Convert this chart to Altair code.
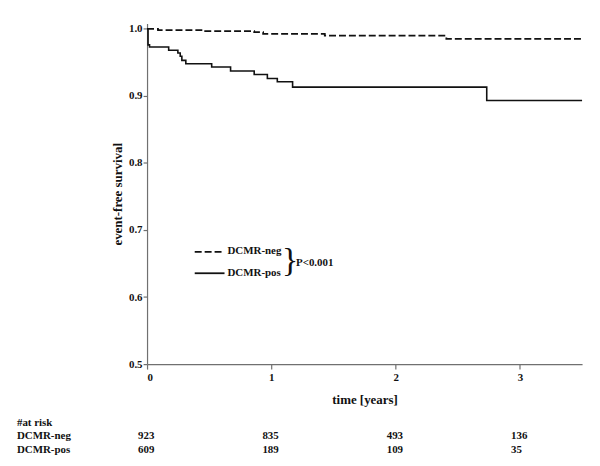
import altair as alt
import pandas as pd

# Kaplan-Meier step curves
neg_t = [0, 0.088, 0.46, 0.862, 0.934, 1.43, 2.408, 3.5]
neg_s = [1.0, 0.998, 0.9965, 0.995, 0.9926, 0.990, 0.985, 0.985]

pos_t = [0, 0.008, 0.02, 0.174, 0.248, 0.267, 0.28, 0.312, 0.52, 0.672, 0.862, 0.968, 1.048, 1.171, 2.733, 3.5]
pos_s = [1.0, 0.976, 0.973, 0.968, 0.964, 0.959, 0.953, 0.948, 0.943, 0.937, 0.932, 0.926, 0.921, 0.913, 0.893, 0.893]

# number at risk table
risk_times = [0, 1, 2, 3]
risk_neg = [923, 835, 493, 136]
risk_pos = [609, 189, 109, 35]

x_ticks = [0, 1, 2, 3]
y_ticks = [0.5, 0.6, 0.7, 0.8, 0.9, 1.0]

W, H = 438, 343
FONT = "Liberation Serif"
INK = "#111111"

neg_df = pd.DataFrame({"t": neg_t, "s": neg_s})
pos_df = pd.DataFrame({"t": pos_t, "s": pos_s})

xscale = alt.Scale(domain=[0, 3.5], nice=False, zero=False)
yscale = alt.Scale(domain=[0.5, 1.008], nice=False, zero=False)

xaxis = alt.Axis(values=x_ticks, format="d", title="time [years]", grid=False,
                 tickSize=5, labelPadding=2, titlePadding=12)
yaxis = alt.Axis(values=y_ticks, format=".1f", title="event-free survival", grid=False,
                 tickSize=4, labelPadding=1, titlePadding=4)

neg_line = alt.Chart(neg_df).mark_line(
    interpolate="step-after", color=INK, strokeWidth=1.8, strokeDash=[7, 3]
).encode(
    x=alt.X("t:Q", scale=xscale, axis=xaxis),
    y=alt.Y("s:Q", scale=yscale, axis=yaxis),
)

pos_line = alt.Chart(pos_df).mark_line(
    interpolate="step-after", color=INK, strokeWidth=1.6
).encode(
    x=alt.X("t:Q", scale=xscale),
    y=alt.Y("s:Q", scale=yscale),
)

one = pd.DataFrame({"a": [0]})

# legend (annotation)
leg_neg = alt.Chart(one).mark_rule(color=INK, strokeWidth=1.8, strokeDash=[7, 3]).encode(
    x=alt.value(48), x2=alt.value(76), y=alt.value(230))
leg_pos = alt.Chart(one).mark_rule(color=INK, strokeWidth=1.8).encode(
    x=alt.value(48), x2=alt.value(78), y=alt.value(251.5))
txt_style = dict(font=FONT, fontWeight="bold", fontSize=11, color=INK)
leg_neg_t = alt.Chart(one).mark_text(align="left", baseline="middle", text="DCMR-neg", **txt_style).encode(
    x=alt.value(81), y=alt.value(229.5))
leg_pos_t = alt.Chart(one).mark_text(align="left", baseline="middle", text="DCMR-pos", **txt_style).encode(
    x=alt.value(81), y=alt.value(251))
brace = alt.Chart(one).mark_text(align="left", baseline="middle", text="}", font=FONT,
                                 fontSize=34, color=INK).encode(
    x=alt.value(136), y=alt.value(239))
pval = alt.Chart(one).mark_text(align="left", baseline="middle", text="P<0.001", **txt_style).encode(
    x=alt.value(150), y=alt.value(241))

# at-risk table
row_labels = alt.Chart(pd.DataFrame({
    "label": ["#at risk", "DCMR-neg", "DCMR-pos"],
    "yy": [405, 418, 432],
})).mark_text(align="left", baseline="alphabetic", **txt_style).encode(
    x=alt.value(-131), y=alt.Y("yy:Q", scale=None), text="label:N")

neg_tab = alt.Chart(pd.DataFrame({"t": risk_times, "n": risk_neg})).mark_text(
    align="left", baseline="alphabetic", dx=-9, **txt_style).encode(
    x=alt.X("t:Q", scale=xscale), y=alt.value(418), text="n:Q")
pos_tab = alt.Chart(pd.DataFrame({"t": risk_times, "n": risk_pos})).mark_text(
    align="left", baseline="alphabetic", dx=-9, **txt_style).encode(
    x=alt.X("t:Q", scale=xscale), y=alt.value(432), text="n:Q")

chart = alt.layer(
    neg_line, pos_line, leg_neg, leg_pos, leg_neg_t, leg_pos_t, brace, pval,
    row_labels, neg_tab, pos_tab
).properties(
    width=W, height=H,
    autosize=alt.AutoSizeParams(type="none"),
    padding={"left": 140, "top": 14, "right": 10, "bottom": 100},
    background="white",
).configure_view(stroke=None).configure_axis(
    labelFont=FONT, labelFontWeight="bold", labelFontSize=11, labelColor=INK,
    titleFont=FONT, titleFontWeight="bold", titleFontSize=13, titleColor=INK,
    domainColor="#707070", tickColor="#707070", domainWidth=1.2, tickWidth=1.2,
)

chart.save("out.html", embed_options={"renderer": "svg", "actions": False})
